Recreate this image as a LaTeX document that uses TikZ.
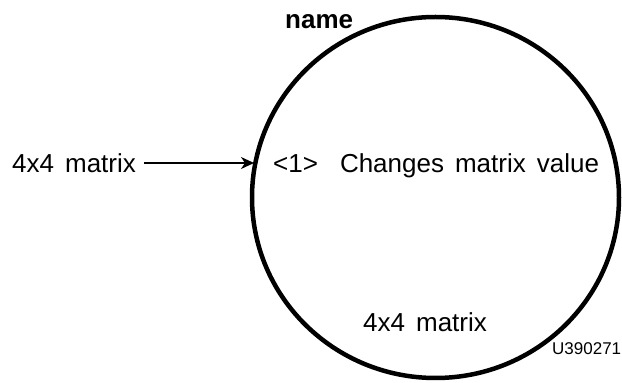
\documentclass[tikz,border=0pt]{standalone}
\usepackage{fontspec}
\setmainfont{Liberation Sans}
\usetikzlibrary{shapes.geometric, arrows.meta}
% Body text size, with wide word gaps
\newcommand{\bodyfont}{\fontsize{26}{31}\selectfont\setlength{\spaceskip}{11pt}}
\tikzset{
  % Body text
  lbl/.style={inner sep=0pt, anchor=base west, font=\bodyfont},
  % Process bubble
  bubble/.style={draw, shape=ellipse, line width=4.5pt, inner sep=0pt,
    minimum width=367pt, minimum height=361pt},
  % Input flow
  flow/.style={line width=1.5pt, -{Stealth[length=13pt, width=12pt, inset=4pt]},
    shorten <=8pt},
}
\begin{document}
\begin{tikzpicture}[x=1pt, y=1pt]
  \useasboundingbox (0,0) rectangle (622,383);

  \node[bubble] (proc) at (435.5,185.5) {};

  \node[lbl, font=\bodyfont\bfseries] (name) at (285,354.5) {name};
  \node[lbl] (in) at (12,210.7) {4x4 matrix};
  \node[lbl] (desc) at (273,210.7) {<1>\hspace{22pt}Changes matrix value};
  \node[lbl] (out) at (363,51) {4x4 matrix};
  \node[lbl, font=\fontsize{17}{20}\selectfont] (tag) at (552,28) {U390271};

  \coordinate (hit) at (254,220);
  \draw[flow] (in.east |- hit) -- (hit);
\end{tikzpicture}
\end{document}
